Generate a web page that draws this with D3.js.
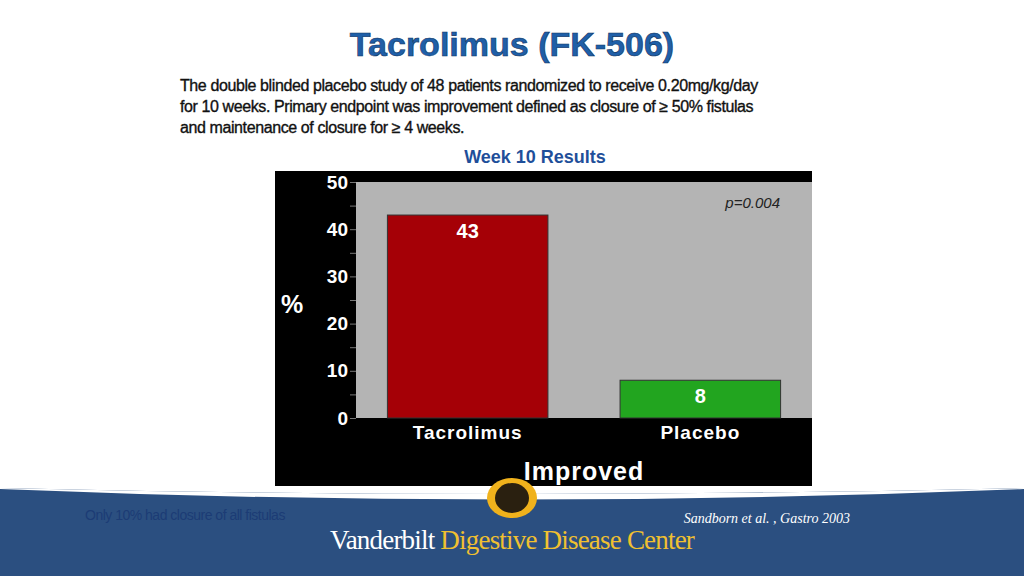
<!DOCTYPE html>
<html><head><meta charset="utf-8">
<script src="https://cdn.jsdelivr.net/npm/d3@7"></script>
<style>body{margin:0;background:#fff;overflow:hidden}svg{display:block}</style>
</head><body>
<svg id="c" width="1024" height="576"></svg>
<script>
// data
const groups = ['Tacrolimus', 'Placebo'];
const values = [43, 8];
const barColors = ['#a50006', '#22a51f'];
const yTicks = [0, 10, 20, 30, 40, 50];

const svg = d3.select('#c');

// title + description
svg.append('text').attr('x', 512).attr('y', 56).attr('text-anchor', 'middle')
  .attr('font-family', 'Arial, Liberation Sans').attr('font-weight', 'bold').attr('font-size', 34)
  .attr('fill', '#1f5fa8').attr('stroke', '#10335e').attr('stroke-width', 0.6).text('Tacrolimus (FK-506)');
const desc = ['The double blinded placebo study of 48 patients randomized to receive 0.20mg/kg/day',
  'for 10 weeks. Primary endpoint was improvement defined as closure of \u2265 50% fistulas',
  'and maintenance of closure for \u2265 4 weeks.'];
svg.selectAll('text.desc').data(desc).join('text').attr('class', 'desc')
  .attr('x', 180).attr('y', (d, i) => 91 + i * 21)
  .attr('font-family', 'Arial, Liberation Sans').attr('font-size', 16).attr('fill', '#111')
  .attr('stroke', '#111').attr('stroke-width', 0.35).attr('letter-spacing', -0.4).text(d => d);
svg.append('text').attr('x', 535).attr('y', 163).attr('text-anchor', 'middle')
  .attr('font-family', 'Arial, Liberation Sans').attr('font-weight', 'bold').attr('font-size', 18)
  .attr('fill', '#1f4f9a').text('Week 10 Results');

// chart panel
svg.append('rect').attr('x', 275).attr('y', 171).attr('width', 537).attr('height', 315).attr('fill', '#000');
const pL = 356, pR = 812, pT = 182, pB = 418;
const y = d3.scaleLinear().domain([0, 50]).range([pB, pT]);
const x = d3.scaleBand().domain(groups).range([pL, pR]).paddingInner(0.31).paddingOuter(0.135);
svg.append('rect').attr('x', pL).attr('y', pT).attr('width', pR - pL).attr('height', pB - pT).attr('fill', '#b4b4b4');

const ax = svg.append('g').attr('transform', `translate(${pL},0)`)
  .call(d3.axisLeft(y).tickValues(d3.range(0, 51, 5)).tickSize(6).tickFormat(d => yTicks.includes(d) ? d : ''));
ax.select('.domain').remove();
ax.selectAll('line').attr('stroke', '#777');
ax.selectAll('text').attr('fill', '#fff').attr('font-family', 'Arial, Liberation Sans')
  .attr('font-weight', 'bold').attr('font-size', 19).attr('x', -8);

svg.selectAll('rect.bar').data(values).join('rect').attr('class', 'bar')
  .attr('x', (d, i) => x(groups[i])).attr('width', x.bandwidth())
  .attr('y', d => y(d)).attr('height', d => pB - y(d))
  .attr('fill', (d, i) => barColors[i]).attr('stroke', '#333').attr('stroke-width', 1);
svg.selectAll('text.val').data(values).join('text').attr('class', 'val')
  .attr('x', (d, i) => x(groups[i]) + x.bandwidth() / 2).attr('y', d => y(d) + 23)
  .attr('text-anchor', 'middle').attr('fill', '#fff').attr('font-family', 'Arial, Liberation Sans')
  .attr('font-weight', 'bold').attr('font-size', 20).text(d => d);
svg.selectAll('text.cat').data(groups).join('text').attr('class', 'cat')
  .attr('x', d => x(d) + x.bandwidth() / 2).attr('y', 439).attr('text-anchor', 'middle')
  .attr('fill', '#fff').attr('font-family', 'Arial, Liberation Sans').attr('font-weight', 'bold')
  .attr('font-size', 19).attr('letter-spacing', 1).text(d => d);
svg.append('text').attr('x', 584).attr('y', 480).attr('text-anchor', 'middle').attr('fill', '#fff')
  .attr('font-family', 'Arial, Liberation Sans').attr('font-weight', 'bold').attr('font-size', 25)
  .attr('letter-spacing', 1).text('Improved');
svg.append('text').attr('x', 292).attr('y', 313).attr('text-anchor', 'middle').attr('fill', '#fff')
  .attr('font-family', 'Arial, Liberation Sans').attr('font-weight', 'bold').attr('font-size', 25).text('%');
svg.append('text').attr('x', 780).attr('y', 208).attr('text-anchor', 'end').attr('fill', '#222')
  .attr('font-family', 'Arial, Liberation Sans').attr('font-style', 'italic').attr('font-size', 15).text('p=0.004');

// footer band
svg.append('path').attr('d', 'M0,488 Q512,500 1024,488 L1024,576 L0,576 Z').attr('fill', '#2b4f80');
svg.append('path').attr('d', 'M0,488 Q512,500 1024,488 L1024,489 Q512,510 0,489 Z').attr('fill', '#fff');
svg.append('ellipse').attr('cx', 512).attr('cy', 498).attr('rx', 25).attr('ry', 20).attr('fill', '#f0b21c');
svg.append('ellipse').attr('cx', 512).attr('cy', 498).attr('rx', 17).attr('ry', 15).attr('fill', '#2a2010');
svg.append('text').attr('x', 85).attr('y', 520).attr('fill', '#1c3c75').attr('font-family', 'Arial, Liberation Sans')
  .attr('font-size', 14).attr('letter-spacing', -0.5).text('Only 10% had closure of all fistulas');
svg.append('text').attr('x', 850).attr('y', 523).attr('text-anchor', 'end').attr('fill', '#fff')
  .attr('font-family', 'Liberation Serif, serif').attr('font-style', 'italic').attr('font-size', 14).text('Sandborn et al. , Gastro 2003');
const brand = svg.append('text').attr('x', 512).attr('y', 549).attr('text-anchor', 'middle')
  .attr('font-family', 'Liberation Serif, serif').attr('font-size', 27).attr('letter-spacing', -0.8);
brand.append('tspan').attr('fill', '#fff').text('Vanderbilt ');
brand.append('tspan').attr('fill', '#f0c030').text('Digestive Disease Center');
</script>
</body></html>
